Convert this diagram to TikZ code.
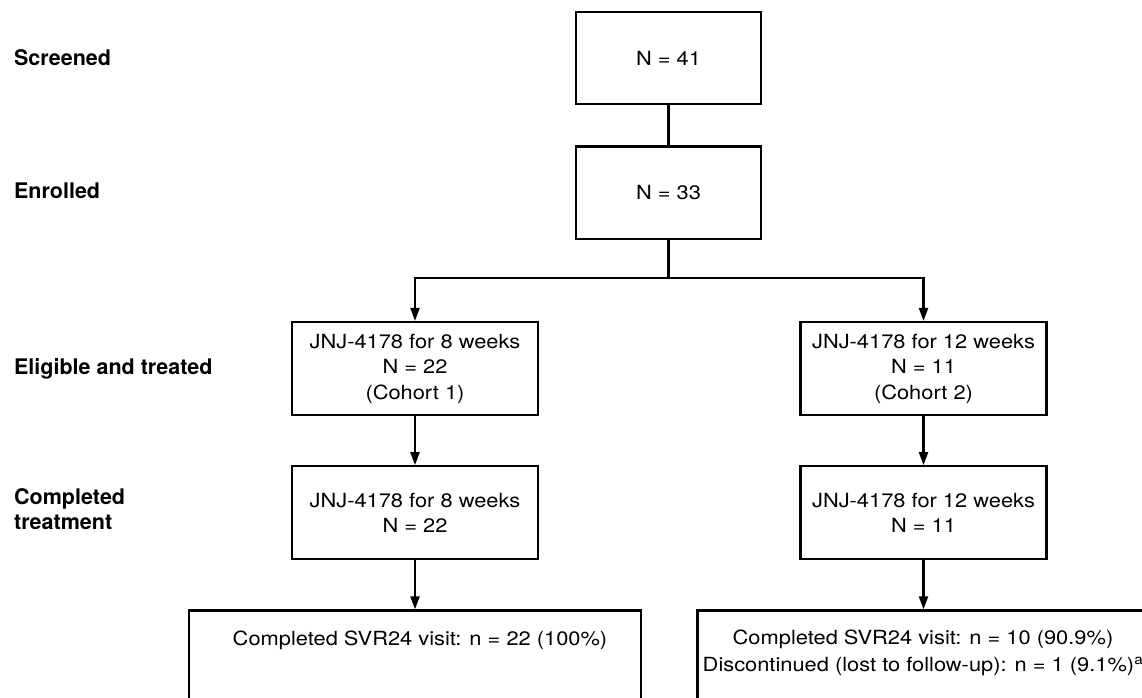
\documentclass[tikz,border=0pt]{standalone}
\usepackage{fontspec}
\setmainfont[FakeStretch=1.12]{TeX Gyre Heros}
\newfontfamily\stagefont{TeX Gyre Heros}
\usetikzlibrary{arrows.meta, positioning}
\tikzset{
  flowbox/.style={draw, line width=2.2pt, minimum width=246pt, minimum height=93pt, inner sep=0pt, align=center, font=\fontsize{19.5}{25.5}\selectfont},
  stagelabel/.style={anchor=west, align=left, inner sep=0pt, font=\stagefont\bfseries\fontsize{21.5}{25}\selectfont},
  svrtext/.style={align=center, inner sep=0pt, font=\fontsize{19.5}{27}\selectfont}
}

\begin{document}
\begin{tikzpicture}[x=1pt, y=-1pt, >={Triangle[length=13pt, width=9pt]}, line width=2.2pt]
\useasboundingbox (0,0) rectangle (1142,697);
\clip (0,0) rectangle (1142,697);
% boxes
\node[flowbox, minimum width=185pt, minimum height=92.5pt] (screen) at (668.5,58) {N = 41};
\node[flowbox, minimum width=185pt, minimum height=92.5pt, below=40pt of screen] (enrol) {N = 33};
\coordinate (split) at (668.5,278.3);
\node[flowbox] (cohortA) at (415,368.5) {JNJ-4178 for 8 weeks\\N = 22\\(Cohort 1)};
\node[flowbox] (cohortB) at (923.5,368.5) {JNJ-4178 for 12 weeks\\N = 11\\(Cohort 2)};
\node[flowbox, below=49pt of cohortA] (doneA) {JNJ-4178 for 8 weeks\\N = 22};
\node[flowbox, below=49pt of cohortB] (doneB) {JNJ-4178 for 12 weeks\\N = 11};
\node[flowbox, minimum width=452pt, minimum height=140pt, below=49pt of doneA] (svrA) {};
\node[flowbox, minimum width=452pt, minimum height=140pt, below=49pt of doneB] (svrB) {};
\node[svrtext] (svrAtext) at (420,640) {Completed SVR24 visit: n = 22 (100\%)};
\node[svrtext] (svrBtext) at (923,653) {Completed SVR24 visit: n = 10 (90.9\%)\\Discontinued (lost to follow-up): n = 1 (9.1\%)\textsuperscript{a}};
% stage labels
\node[stagelabel] (lscreen) at (13,58) {Screened};
\node[stagelabel] (lenrol) at (13,190.5) {Enrolled};
\node[stagelabel] (ltreat) at (13,369) {Eligible and treated};
\node[stagelabel] (ldone) at (13,509.5) {Completed\\treatment};
% connectors
\draw (screen) -- (enrol);
\draw (enrol) -- (split);
\draw[->] (split) -| (cohortA.north);
\draw[->] (split) -| (cohortB.north);
\draw[->] (cohortA) -- (doneA);
\draw[->] (cohortB) -- (doneB);
\draw[->] (doneA) -- (svrA);
\draw[->] (doneB) -- (svrB);
\end{tikzpicture}
\end{document}
